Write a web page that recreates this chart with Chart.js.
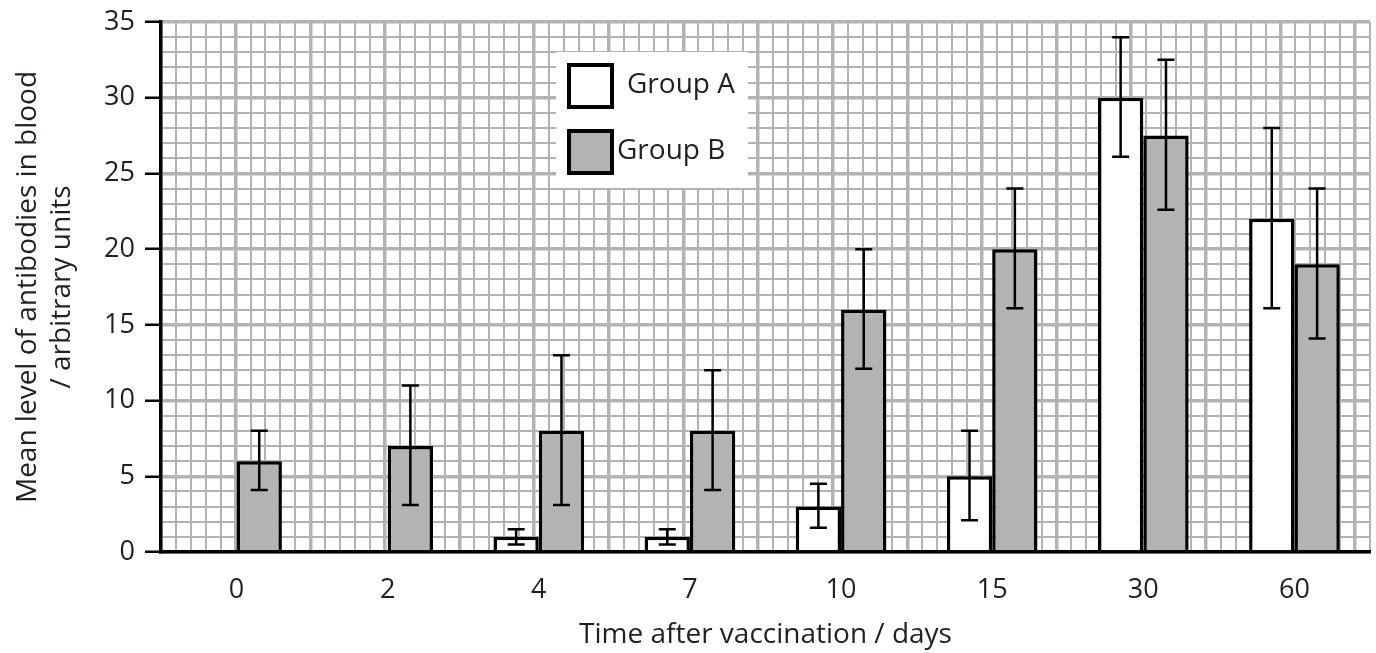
<!DOCTYPE html>
<html>
<head>
<meta charset="utf-8">
<script src="https://cdn.jsdelivr.net/npm/chart.js@4"></script>
<style>
  body { margin: 0; background: #fff; }
  #wrap { width: 1376px; height: 653px; }
</style>
</head>
<body>
<div id="wrap"><canvas id="myChart"></canvas></div>
<script>
const ctx = document.getElementById("myChart").getContext("2d");

// data
const labels = ["0", "2", "4", "7", "10", "15", "30", "60"];
const groupA = [0, 0, 1, 1, 3, 5, 30, 22];
const groupB = [6, 7, 8, 8, 16, 20, 27.5, 19];
const errALow = [null, null, 0.5, 0.5, 1.6, 2.1, 26.1, 16.1];
const errAHigh = [null, null, 1.5, 1.5, 4.5, 8, 34, 28];
const errBLow = [4.1, 3.1, 3.1, 4.1, 12.1, 16.1, 22.6, 14.1];
const errBHigh = [8, 11, 13, 12, 20, 24, 32.5, 24];

const gridGrey = "#b3b3b3";
const ink = "#231f20";

const isMajor = (c) => c.tick && c.tick.value % 5 === 0;

// error bars drawn on top of the bars
const errorBars = {
  id: "errorBars",
  afterDatasetsDraw(chart) {
    const c = chart.ctx;
    const y = chart.scales.y;
    const sets = [[errALow, errAHigh], [errBLow, errBHigh]];
    c.save();
    c.strokeStyle = "#000";
    c.lineWidth = 2.5;
    sets.forEach((s, di) => {
      chart.getDatasetMeta(di).data.forEach((bar, i) => {
        if (s[0][i] == null) return;
        const x = bar.x;
        const y1 = y.getPixelForValue(s[0][i]);
        const y2 = y.getPixelForValue(s[1][i]);
        c.beginPath();
        c.moveTo(x, y1); c.lineTo(x, y2);
        c.moveTo(x - 8.5, y1); c.lineTo(x + 8.5, y1);
        c.moveTo(x - 8.5, y2); c.lineTo(x + 8.5, y2);
        c.stroke();
      });
    });
    c.restore();
  },
};

// boxed legend sitting on the grid
const boxLegend = {
  id: "boxLegend",
  afterDraw(chart) {
    const c = chart.ctx;
    c.save();
    c.fillStyle = "#fff";
    c.fillRect(556, 52, 192, 136);
    const items = [
      { ds: chart.data.datasets[0], y: 65, tx: 627 },
      { ds: chart.data.datasets[1], y: 131, tx: 617 },
    ];
    items.forEach((it) => {
      c.fillStyle = it.ds.backgroundColor;
      c.fillRect(569, it.y, 43, 42);
      c.lineWidth = 4;
      c.strokeStyle = "#000";
      c.strokeRect(569, it.y, 43, 42);
      c.fillStyle = ink;
      c.font = "28px 'Open Sans'";
      c.textBaseline = "middle";
      c.fillText(it.ds.label, it.tx, it.y + 20);
    });
    c.restore();
  },
};

const data = {
  labels,
  datasets: [
    {
      label: "Group A",
      data: groupA,
      backgroundColor: "#ffffff",
      borderColor: "#000",
      borderWidth: 3.5,
    },
    {
      label: "Group B",
      data: groupB,
      backgroundColor: "#b3b3b3",
      borderColor: "#000",
      borderWidth: 3.5,
    },
  ],
};

const config = {
  type: "bar",
  data: data,
  plugins: [errorBars, boxLegend],
  options: {
    responsive: true,
    maintainAspectRatio: false,
    animation: false,
    layout: { padding: { top: 22, right: 6, left: 0, bottom: 0 } },
    datasets: { bar: { barPercentage: 1, categoryPercentage: 0.6 } },
    plugins: { legend: { display: false }, tooltip: { enabled: false } },
    scales: {
      x: {
        grid: { display: false },
        border: { color: "#000", width: 3.5 },
        ticks: { color: ink, font: { family: "Open Sans", size: 27 }, padding: 14 },
        title: {
          display: true,
          text: "Time after vaccination / days",
          color: ink,
          font: { family: "Open Sans", size: 28 },
          padding: { top: 0, bottom: 1 },
        },
        afterFit: (s) => { s.height = 101; },
      },
      xg: {
        type: "linear",
        position: "top",
        min: 0,
        max: 80,
        ticks: { display: false, stepSize: 1 },
        border: { display: false },
        grid: {
          drawTicks: false,
          color: gridGrey,
          lineWidth: (c) => (isMajor(c) ? 3.5 : 2),
        },
        afterFit: (s) => { s.height = 0; },
      },
      y: {
        min: 0,
        max: 35,
        border: { color: "#000", width: 3.5 },
        grid: {
          color: gridGrey,
          lineWidth: (c) => (isMajor(c) ? 3.5 : 2),
          tickLength: 16,
          tickColor: (c) => (isMajor(c) ? "#000" : "rgba(0,0,0,0)"),
          tickWidth: 2.5,
        },
        ticks: {
          stepSize: 1,
          autoSkip: false,
          padding: 10,
          color: ink,
          font: { family: "Open Sans", size: 27 },
          callback: (value) => (value % 5 === 0 ? "" + value : ""),
        },
        title: {
          display: true,
          text: ["Mean level of antibodies in blood", "/ arbitrary units"],
          color: ink,
          font: { family: "Open Sans", size: 28, lineHeight: 1.214 },
          padding: { top: 11, bottom: 0 },
        },
        afterFit: (s) => {
          s.width = 161;
          s.paddingTop = 0;
          s.paddingBottom = 0;
        },
      },
    },
  },
};

const myChart = new Chart(ctx, config);
</script>
</body>
</html>
